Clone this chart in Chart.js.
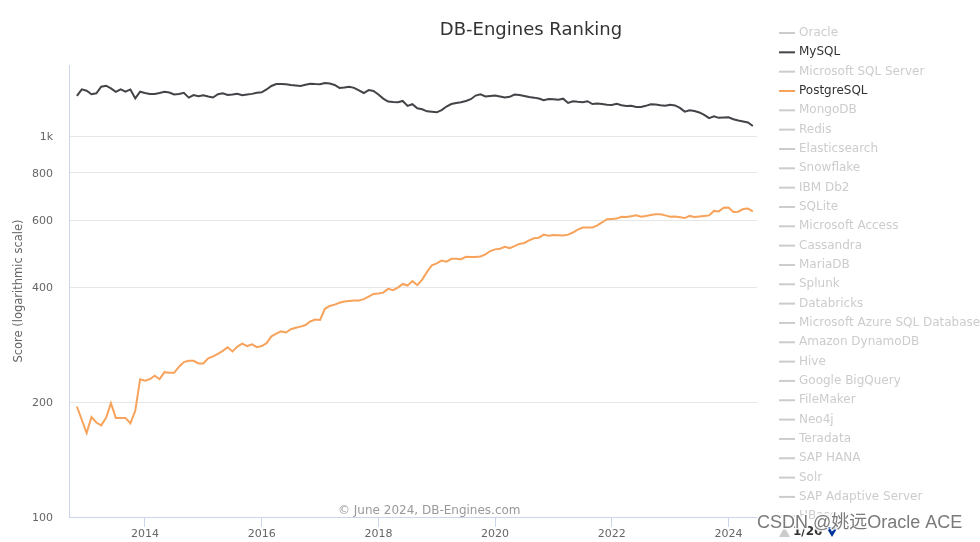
<!DOCTYPE html>
<html>
<head>
<meta charset="utf-8">
<title>DB-Engines Ranking</title>
<script src="https://cdn.jsdelivr.net/npm/chart.js@4"></script>
<style>
  html, body { margin: 0; padding: 0; background: #fff; }
  #rankingChart { display: block; }
</style>
</head>
<body>
<canvas id="rankingChart" width="980" height="542"></canvas>
<script>
// monthly scores, Nov 2012 .. Jun 2024
const startYear = 2012;
const startMonth = 11;

const mysqlScores = [
  1274, 1326, 1315, 1287, 1295, 1347, 1355, 1333, 1306, 1325, 1307, 1325,
  1255, 1307, 1297, 1289, 1290, 1297, 1306, 1301, 1285, 1289, 1298, 1261,
  1281, 1271, 1279, 1270, 1262, 1287, 1295, 1281, 1285, 1291, 1280, 1285,
  1290, 1299, 1302, 1325, 1353, 1369, 1369, 1367, 1361, 1357, 1353, 1363,
  1372, 1369, 1367, 1378, 1373, 1361, 1337, 1341, 1347, 1338, 1317, 1297,
  1320, 1313, 1285, 1254, 1232, 1228, 1227, 1236, 1200, 1212, 1182, 1175,
  1161, 1158, 1154, 1170, 1195, 1213, 1221, 1226, 1236, 1249, 1277, 1286,
  1270, 1274, 1277, 1270, 1262, 1267, 1285, 1281, 1274, 1266, 1261, 1254,
  1241, 1251, 1249, 1245, 1253, 1221, 1234, 1230, 1227, 1234, 1213, 1217,
  1213, 1208, 1206, 1215, 1204, 1199, 1201, 1192, 1192, 1200, 1211, 1209,
  1204, 1200, 1208, 1203, 1185, 1159, 1168, 1163, 1153, 1136, 1114, 1127,
  1116, 1118, 1120, 1107, 1098, 1092, 1085, 1062
];

const postgresScores = [
  195, 180, 166, 183, 177, 174, 182, 199, 182, 182, 182, 176,
  190, 230, 228, 230, 235, 230, 240, 239, 239, 248, 255, 257,
  257, 253, 253, 261, 264, 268, 273, 279, 272, 280, 285, 281,
  284, 279, 281, 286, 298, 303, 307, 305, 311, 314, 316, 319,
  326, 330, 329, 352, 358, 361, 365, 368, 369, 370, 370, 373,
  379, 385, 386, 388, 397, 394, 400, 409, 405, 416, 406, 420,
  440, 458, 463, 471, 468, 476, 476, 475, 482, 481, 481, 483,
  489, 499, 504, 506, 512, 508, 514, 521, 524, 532, 539, 541,
  551, 547, 550, 549, 548, 551, 558, 568, 575, 575, 575, 583,
  593, 605, 606, 607, 614, 613, 616, 619, 614, 617, 620, 623,
  623, 619, 614, 615, 612, 609, 617, 613, 615, 617, 619, 636,
  634, 648, 649, 632, 633, 643, 645, 634
];

const yearTicks = [2014, 2016, 2018, 2020, 2022, 2024];
const scoreTicks = [100, 200, 400, 600, 800, 1000];

const legendNames = [
  'Oracle', 'MySQL', 'Microsoft SQL Server', 'PostgreSQL', 'MongoDB', 'Redis',
  'Elasticsearch', 'Snowflake', 'IBM Db2', 'SQLite', 'Microsoft Access', 'Cassandra',
  'MariaDB', 'Splunk', 'Databricks', 'Microsoft Azure SQL Database', 'Amazon DynamoDB',
  'Hive', 'Google BigQuery', 'FileMaker', 'Neo4j', 'Teradata', 'SAP HANA', 'Solr',
  'SAP Adaptive Server', 'HBase'
];
const seriesColors = { 'MySQL': '#434348', 'PostgreSQL': '#f7a35c' };

// month index -> decimal year
function toPoints(scores) {
  return scores.map((v, i) => ({ x: startYear + (startMonth - 1 + i) / 12, y: v }));
}

const FONT = '"DejaVu Sans", "Noto Sans", sans-serif';

// title, axis title, credits, legend, pager and watermark
const decorations = {
  id: 'decorations',
  afterDraw(chart) {
    const ctx = chart.ctx;
    ctx.save();

    ctx.fillStyle = '#333333';
    ctx.font = '18px ' + FONT;
    ctx.textAlign = 'center';
    ctx.textBaseline = 'middle';
    ctx.fillText('DB-Engines Ranking', 531, 30);

    ctx.save();
    ctx.translate(19, 291);
    ctx.rotate(-Math.PI / 2);
    ctx.fillStyle = '#666666';
    ctx.font = '11.5px ' + FONT;
    ctx.fillText('Score (logarithmic scale)', 0, 0);
    ctx.restore();

    ctx.textAlign = 'left';
    ctx.fillStyle = '#999999';
    ctx.font = '12px ' + FONT;
    ctx.fillText('\u00a9 June 2024, DB-Engines.com', 338, 511);

    // legend (clipped like the paged original)
    ctx.save();
    ctx.beginPath();
    ctx.rect(770, 0, 210, 520);
    ctx.clip();
    ctx.font = '12px ' + FONT;
    legendNames.forEach((name, i) => {
      const y = 33 + i * 19.33;
      const shown = seriesColors[name];
      ctx.strokeStyle = shown || '#cccccc';
      ctx.lineWidth = 2;
      ctx.beginPath();
      ctx.moveTo(779, y);
      ctx.lineTo(795, y);
      ctx.stroke();
      ctx.fillStyle = shown ? '#333333' : '#cccccc';
      ctx.fillText(name, 799, y);
    });
    ctx.restore();

    // pager
    ctx.fillStyle = '#cccccc';
    ctx.beginPath();
    ctx.moveTo(779, 537);
    ctx.lineTo(790, 537);
    ctx.lineTo(784.5, 527);
    ctx.closePath();
    ctx.fill();
    ctx.fillStyle = '#333333';
    ctx.font = 'bold 12px ' + FONT;
    ctx.fillText('1/26', 793, 532);
    ctx.fillStyle = '#003399';
    ctx.beginPath();
    ctx.moveTo(826, 527);
    ctx.lineTo(838, 527);
    ctx.lineTo(832, 537);
    ctx.closePath();
    ctx.fill();

    // watermark
    ctx.font = '18px "Liberation Sans", "Noto Sans CJK SC", sans-serif';
    ctx.lineWidth = 3;
    ctx.strokeStyle = 'rgba(255,255,255,0.9)';
    ctx.strokeText('CSDN @\u59da\u8fdcOracle ACE', 757, 523);
    ctx.fillStyle = '#7a7a7a';
    ctx.fillText('CSDN @\u59da\u8fdcOracle ACE', 757, 523);

    ctx.restore();
  }
};

const tickFont = { family: FONT, size: 11 };

new Chart(document.getElementById('rankingChart'), {
  type: 'line',
  data: {
    datasets: [
      {
        label: 'MySQL',
        data: toPoints(mysqlScores),
        borderColor: seriesColors['MySQL'],
        backgroundColor: seriesColors['MySQL']
      },
      {
        label: 'PostgreSQL',
        data: toPoints(postgresScores),
        borderColor: seriesColors['PostgreSQL'],
        backgroundColor: seriesColors['PostgreSQL']
      }
    ]
  },
  options: {
    responsive: false,
    animation: false,
    devicePixelRatio: 1,
    layout: { padding: { top: 65, right: 223, bottom: 0, left: 0 } },
    elements: {
      point: { radius: 0 },
      line: { borderWidth: 2, tension: 0 }
    },
    plugins: {
      legend: { display: false },
      title: { display: false },
      tooltip: { enabled: false }
    },
    scales: {
      x: {
        type: 'linear',
        min: 2012.698,
        max: 2024.488,
        afterBuildTicks: (scale) => { scale.ticks = yearTicks.map(v => ({ value: v })); },
        afterFit: (scale) => { scale.height = 25; },
        grid: { drawOnChartArea: false, color: '#ccd6eb', tickLength: 10 },
        border: { color: '#ccd6eb' },
        ticks: {
          color: '#666666',
          font: tickFont,
          padding: 1,
          maxRotation: 0,
          callback: (v) => String(v)
        }
      },
      y: {
        type: 'logarithmic',
        min: 100,
        max: 1536,
        afterBuildTicks: (scale) => { scale.ticks = scoreTicks.map(v => ({ value: v })); },
        afterFit: (scale) => { scale.width = 69; },
        grid: { color: '#e6e6e6', drawTicks: false },
        border: { color: '#ccd6eb' },
        ticks: {
          color: '#666666',
          font: tickFont,
          padding: 16,
          labelOffset: 1,
          callback: (v) => (v >= 1000 ? (v / 1000) + 'k' : String(v))
        }
      }
    }
  },
  plugins: [decorations]
});
</script>
</body>
</html>
